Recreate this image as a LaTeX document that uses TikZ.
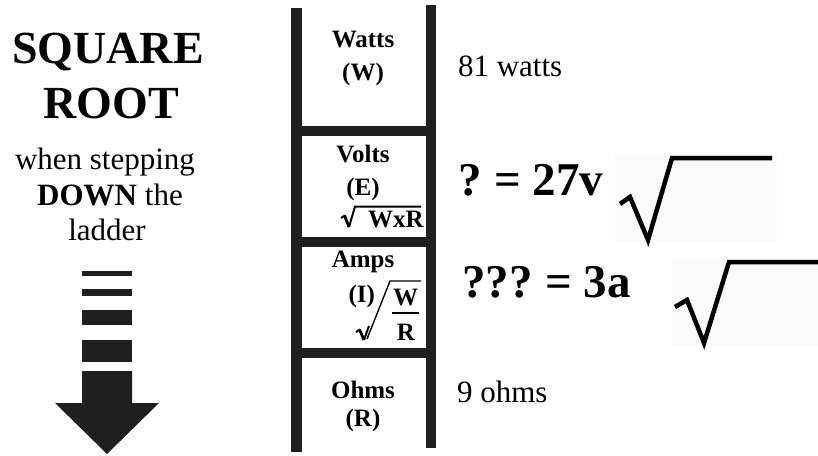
\documentclass[tikz,border=0pt]{standalone}
\usepackage{fontspec}
\setmainfont{Liberation Serif}
\tikzset{
  txt/.style={inner sep=0pt, outer sep=0pt, text=black},
  ladlab/.style={txt, font=\fontsize{25}{27}\selectfont\bfseries, anchor=base},
  bigbold/.style={txt, font=\fontsize{47}{50}\selectfont\bfseries, anchor=base west},
  plainval/.style={txt, font=\fontsize{31}{34}\selectfont, anchor=base west},
  headline/.style={txt, font=\fontsize{46}{50}\selectfont\bfseries, anchor=base},
  subline/.style={txt, font=\fontsize{31}{34}\selectfont, anchor=base},
  rail/.style={fill=black!88},
  radical/.style={line width=4.5pt, line join=miter, line cap=butt, black},
  smallrad/.style={line width=2pt, line join=miter, black},
  pastebg/.style={fill=black!2, draw=none},
}
\begin{document}
\begin{tikzpicture}[x=1pt,y=-1pt]
\useasboundingbox (0,0) rectangle (818,455);
% ladder rails and rungs
\fill[rail] (291,8) rectangle (302,452);
\fill[rail] (426,5) rectangle (436,448);
\fill[rail] (302,126) rectangle (426,136);
\fill[rail] (302,237) rectangle (426,247);
\fill[rail] (302,348) rectangle (426,358);
% ladder labels
\node[ladlab] (watts) at (363,47) {Watts};
\node[ladlab] (wsym) at (363,80) {(W)};
\node[ladlab] (volts) at (363,162) {Volts};
\node[ladlab] (esym) at (363,195) {(E)};
\draw[smallrad] (341,218) -- (345,215.5);
\draw[line width=2.8pt, line join=miter] (344.5,215.5) -- (349,227);
\draw[smallrad] (349,227) -- (355,206.5) -- (421,206.5);
\node[ladlab, anchor=base west] (wxr) at (368,227) {WxR};
\node[ladlab] (amps) at (363,267) {Amps};
\node[ladlab, anchor=base east] (isym) at (375,302) {(I)};
\draw[smallrad] (356,332) -- (360,329.5);
\draw[line width=2.8pt, line join=miter] (359.5,329.5) -- (364,340);
\draw[smallrad] (364,340) -- (369,326);
\draw[line width=1.4pt, line join=miter] (367,339) -- (390,281) -- (421,281);
\node[ladlab] (wnum) at (405.5,305) {W};
\draw[line width=2.4pt] (392,313) -- (419,313);
\node[ladlab] (rden) at (406,340) {R};
\node[ladlab] (ohms) at (363,398) {Ohms};
\node[ladlab] (rsym) at (363,426) {(R)};
% right values
\node[plainval] (v81) at (458,76) {81 watts};
\node[bigbold] (q27) at (458,195) {?\kern-3pt{} = 27v};
\node[bigbold] (q3) at (462,297) {???\kern-3pt{} = 3a};
\node[plainval] (v9) at (457,402) {9 ohms};
% pasted radicals
\fill[pastebg] (615,155) rectangle (777,243);
\draw[radical] (620,204) -- (630,197) -- (648,240) -- (672,158) -- (772,158);
\fill[pastebg] (672,257) rectangle (818,346);
\draw[radical] (675,307) -- (687,300) -- (704,343) -- (729,262) -- (818,262);
% left text
\node[headline] (sq) at (108,63) {SQUARE};
\node[headline] (root) at (111,118) {ROOT};
\node[subline] (when) at (105,169) {when stepping};
\node[subline] (down) at (110,205) {\textbf{DOWN} the};
\node[subline] (ladder) at (107,240) {ladder};
% arrow
\fill[black!88] (82,271) rectangle (132,276);
\fill[black!88] (82,289) rectangle (132,296);
\fill[black!88] (82,310) rectangle (132,325);
\fill[black!88] (82,340) rectangle (132,362);
\fill[black!88] (82,371) -- (132,371) -- (132,403) -- (159,403) -- (107,454) -- (55,403) -- (82,403) -- cycle;
\end{tikzpicture}
\end{document}
